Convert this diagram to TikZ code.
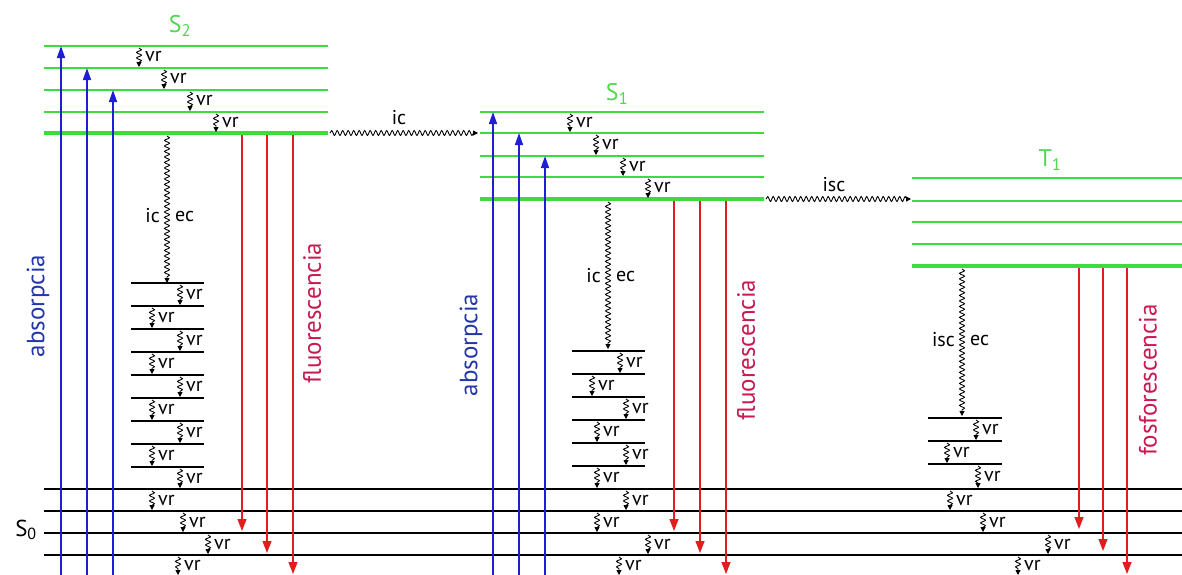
\documentclass[tikz,border=0pt]{standalone}
\usepackage{fontspec}
\setmainfont{PT Sans}
\usetikzlibrary{arrows.meta,decorations.pathmorphing}
\definecolor{lvlgreen}{RGB}{60,220,60}
\definecolor{lblgreen}{RGB}{80,215,80}
\definecolor{absblue}{RGB}{30,30,215}
\definecolor{abstext}{RGB}{35,55,170}
\definecolor{emred}{RGB}{225,30,30}
\definecolor{emtext}{RGB}{200,25,80}

% one vibrational relaxation step: name, x, upper level, lower level
\newcommand{\vrstep}[4]{%
  \draw[vrwave] (#2,#3+2) -- (#2,#4-1);
  \node[vrlabel] (#1) at (#2+6,{(#3+#4)/2}) {vr};
}

\begin{document}
\begin{tikzpicture}[x=1pt,y=-1pt,
  lvl/.style={lvlgreen,line width=1.8pt},
  lvlbold/.style={lvlgreen,line width=3.8pt},
  gnd/.style={black,line width=1.4pt},
  ladder/.style={black,line width=1.1pt},
  absarrow/.style={absblue,line width=1.5pt,-{Triangle[width=8pt,length=12pt]}},
  emarrow/.style={emred,line width=1.3pt,-{Triangle[width=9pt,length=12pt]}},
  vrwave/.style={line width=0.9pt,-{Triangle[width=5pt,length=5pt]},
    decorate,decoration={snake,amplitude=2.4pt,segment length=5.5pt,post length=4pt}},
  longwave/.style={line width=0.9pt,-{Triangle[width=5pt,length=5pt]},
    decorate,decoration={snake,amplitude=2.4pt,segment length=5.5pt,post length=4pt}},
  vrlabel/.style={anchor=west,inner sep=0pt,font=\fontsize{20}{20}\selectfont},
  proclabel/.style={inner sep=0pt,font=\fontsize{20}{20}\selectfont},
  statelabel/.style={lblgreen,inner sep=0pt,font=\fontsize{24}{24}\selectfont},
  rotlabel/.style={rotate=90,inner sep=0pt,font=\fontsize{25}{25}\selectfont}]
\useasboundingbox (0,0) rectangle (1182,574);

% ground state S0
\foreach \y in {489,511,533,555}
  \draw[gnd] (44,\y) -- (1182,\y);
\node[inner sep=0pt,font=\fontsize{23}{23}\selectfont] (s0) at (26,530) {S\textsubscript{0}};

% S2
\foreach \y in {46,68,90,112}
  \draw[lvl] (44,\y) -- (328,\y);
\draw[lvlbold] (44,133) -- (328,133);
\node[statelabel] (s2) at (180,26) {S\textsubscript{2}};
\foreach \y in {283,306,...,467}
  \draw[ladder] (131,\y) -- (204,\y);
\vrstep{vra}{139}{46}{68}
\vrstep{vrb}{164}{68}{90}
\vrstep{vrc}{190}{90}{112}
\vrstep{vrd}{216}{112}{133}
\foreach \x/\yt/\yb [count=\i] in {180/283/306,152/306/329,180/329/352,152/352/375,
    180/375/398,152/398/421,180/421/444,152/444/467,180/467/489,152/489/511,
    183/511/533,208/533/555,178/555/576}
  {\vrstep{vrs\i}{\x}{\yt}{\yb}}
\draw[longwave] (167,136) -- (167,283);
\node[proclabel,anchor=east] (ica) at (160,216) {ic};
\node[proclabel,anchor=west] (eca) at (175,216) {ec};
\foreach \x/\y in {61/46,87/68,113/90}
  \draw[absarrow] (\x,576) -- (\x,\y);
\foreach \x/\y in {242/531,267/553,293/574}
  \draw[emarrow] (\x,135) -- (\x,\y);
\node[rotlabel,abstext] (absa) at (38,306) {absorpcia};
\node[rotlabel,emtext] (flua) at (312,313) {fluorescencia};

% S1
\foreach \y in {112,133,156,177}
  \draw[lvl] (480,\y) -- (764,\y);
\draw[lvlbold] (480,199) -- (764,199);
\node[statelabel] (s1) at (617,94) {S\textsubscript{1}};
\foreach \y in {351,374,...,466}
  \draw[ladder] (572,\y) -- (645,\y);
\vrstep{vre}{570}{112}{133}
\vrstep{vrf}{596}{133}{156}
\vrstep{vrg}{623}{156}{177}
\vrstep{vrh}{648}{177}{199}
\foreach \x/\yt/\yb [count=\i] in {620/351/374,592/374/397,626/397/420,597/420/443,
    626/443/466,597/466/489,626/489/511,597/511/533,648/533/555,619/555/576}
  {\vrstep{vrt\i}{\x}{\yt}{\yb}}
\draw[longwave] (608,202) -- (608,349);
\node[proclabel,anchor=east] (icb) at (601,276) {ic};
\node[proclabel,anchor=west] (ecb) at (616,276) {ec};
\foreach \x/\y in {493/112,519/133,545/156}
  \draw[absarrow] (\x,576) -- (\x,\y);
\foreach \x/\y in {674/531,700/553,726/574}
  \draw[emarrow] (\x,201) -- (\x,\y);
\node[rotlabel,abstext] (absb) at (471,345) {absorpcia};
\node[rotlabel,emtext] (flub) at (746,350) {fluorescencia};

% internal conversion S2 -> S1
\coordinate (icfrom) at (330,133);
\coordinate (icto) at (478,133);
\draw[longwave] (icfrom) -- (icto);
\node[proclabel] (icc) at (399,118) {ic};

% T1
\foreach \y in {178,201,222,244}
  \draw[lvl] (912,\y) -- (1182,\y);
\draw[lvlbold] (912,266) -- (1182,266);
\node[statelabel] (t1) at (1050,160) {T\textsubscript{1}};
\foreach \y in {418,441,464}
  \draw[ladder] (928,\y) -- (1002,\y);
\foreach \x/\yt/\yb [count=\i] in {976/418/441,947/441/464,978/464/489,950/489/511,
    983/511/533,1048/533/555,1018/555/576}
  {\vrstep{vru\i}{\x}{\yt}{\yb}}
\draw[longwave] (962,269) -- (962,416);
\node[proclabel,anchor=east] (iscb) at (955,340) {isc};
\node[proclabel,anchor=west] (ecc) at (970,340) {ec};
\foreach \x/\y in {1079/529,1103/551,1127/574}
  \draw[emarrow] (\x,268) -- (\x,\y);
\node[rotlabel,emtext] (fosf) at (1148,380) {fosforescencia};

% intersystem crossing S1 -> T1
\coordinate (iscfrom) at (766,199);
\coordinate (iscto) at (911,199);
\draw[longwave] (iscfrom) -- (iscto);
\node[proclabel] (isca) at (834,185) {isc};
\end{tikzpicture}
\end{document}
